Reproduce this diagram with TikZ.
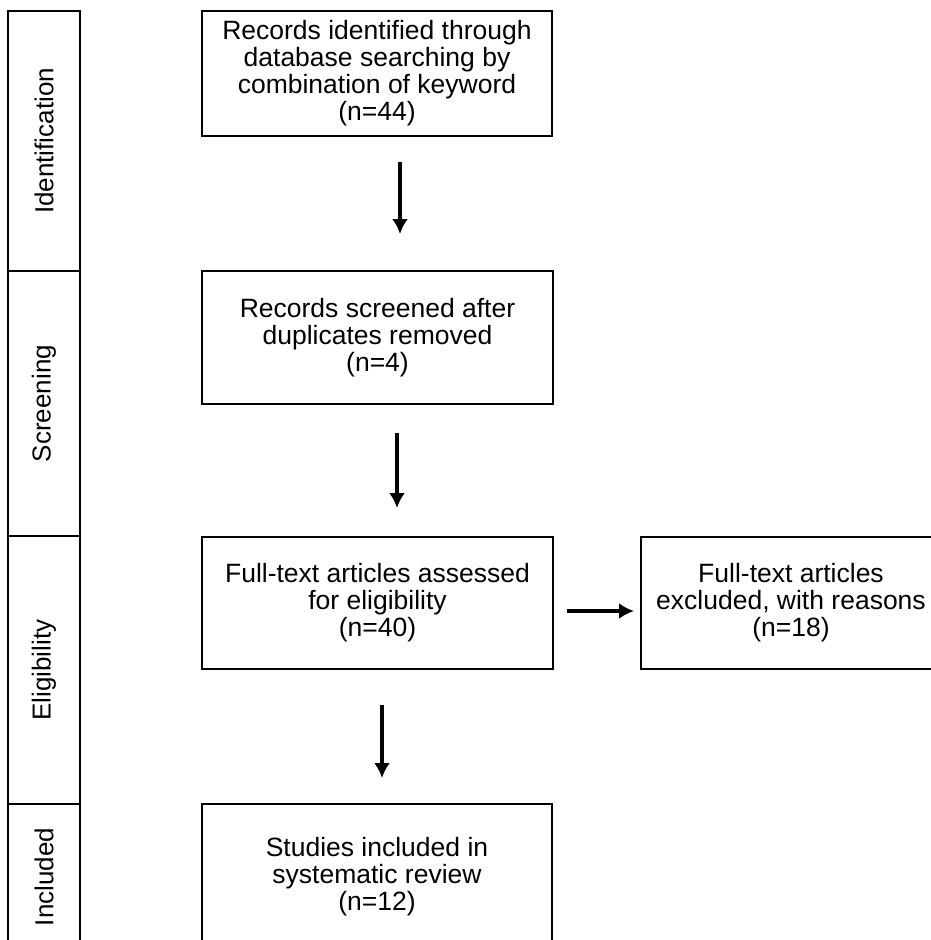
\documentclass[tikz,border=0pt]{standalone}
\usepackage{fontspec}
\setmainfont{Liberation Sans}
\usetikzlibrary{arrows.meta}

\begin{document}
\begin{tikzpicture}[x=1pt, y=-1pt, >={Latex[length=15pt,width=16pt]},
    box/.style={draw, line width=2.4pt, align=center, inner sep=0pt,
        font=\fontsize{26.5}{27}\selectfont},
    lane/.style={draw, line width=2.4pt, rotate=90, inner sep=0pt,
        minimum height=72pt, font=\fontsize{26}{27}\selectfont},
    flow/.style={->, line width=3.5pt}]

    \useasboundingbox (0,0) rectangle (931,940);
    \clip (0,0) rectangle (931,940);
    % Phases on the left
    \node[lane, minimum width=260pt] (lident) at (44,141) {Identification};
    \node[lane, minimum width=265pt] (lscreen) at (44,403.5) {Screening};
    \node[lane, minimum width=268pt] (lelig) at (44,670) {Eligibility};
    \node[lane, minimum width=146pt] (lincl) at (44,877) {Included};
    % Boxes
    \node[box, minimum width=350pt, minimum height=125pt] (ident) at (377,73.5)
        {Records identified through\\database searching by\\combination of keyword\\(n=44)};
    \node[box, minimum width=351pt, minimum height=133pt] (screen) at (377.5,337.5)
        {Records screened after\\duplicates removed\\(n=4)};
    \node[box, minimum width=351pt, minimum height=132pt] (elig) at (377.5,603)
        {Full-text articles assessed\\for eligibility\\(n=40)};
    \node[box, minimum width=300pt, minimum height=132pt] (excl) at (791,603)
        {Full-text articles\\excluded, with reasons\\(n=18)};
    \node[box, minimum width=350pt, minimum height=146pt] (incl) at (377,877)
        {Studies included in\\systematic review\\(n=12)};
    % Arrows
    \coordinate (a1) at (400,162);  \coordinate (b1) at (400,234);
    \coordinate (a2) at (397,433);  \coordinate (b2) at (397,508);
    \coordinate (a3) at (567,611);  \coordinate (b3) at (634,611);
    \coordinate (a4) at (382,705);  \coordinate (b4) at (382,778);
    \draw[flow] (a1) -- (b1);
    \draw[flow] (a2) -- (b2);
    \draw[flow] (a3) -- (b3);
    \draw[flow] (a4) -- (b4);

\end{tikzpicture}
\end{document}
